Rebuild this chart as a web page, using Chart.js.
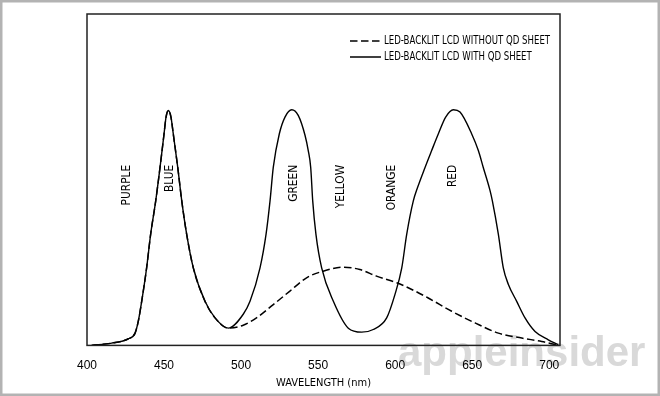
<!DOCTYPE html>
<html>
<head>
<meta charset="utf-8">
<script src="https://cdn.jsdelivr.net/npm/chart.js@4.4.1/dist/chart.umd.min.js"></script>
<style>
  html, body { margin: 0; padding: 0; background: #fff; }
</style>
</head>
<body>
<canvas id="spectrum" width="660" height="396"></canvas>
<script>
// spectrum values (wavelength nm, relative intensity 0-100)
const xTicks = [400, 450, 500, 550, 600, 650, 700];

const withoutLabel = 'LED-BACKLIT LCD WITHOUT QD SHEET';
const withoutWl = [403, 416, 426.8, 431.2, 433.3, 435.5, 438.7, 441.3, 444.6, 447.4, 450.0, 451.3, 452.8,
  454.5, 456.0, 458.9, 461.5, 464.7, 469.0, 476.6, 483.1, 491.7,
  501.4, 510.0, 520.9, 531.7, 542.5, 553.3, 566.3, 577.1, 587.9, 601.0, 608.5, 621.5, 636.7,
  651.8, 667.0, 682.2, 695.1, 705.9];
const withoutVal = [0, 0.7, 2.0, 3.7, 7.3, 13.3, 23.4, 33.5, 43.6, 53.7, 63.8, 68.9, 70.9,
  68.9, 63.8, 53.7, 43.6, 33.5, 23.4, 13.3, 8.3, 5.2,
  6.1, 8.3, 12.3, 16.4, 20.4, 22.4, 23.6, 22.9, 20.9, 18.9, 17.4, 14.3, 10.3,
  6.8, 3.7, 2.2, 1.2, 0];

const withLabel = 'LED-BACKLIT LCD WITH QD SHEET';
const withWl = [403, 416, 426.8, 431.2, 433.3, 435.5, 438.7, 441.3, 444.6, 447.4, 450.0, 451.3, 452.8,
  454.5, 456.0, 458.9, 461.5, 464.7, 469.0, 476.6, 483.1, 491.7,
  501.4, 505.8, 512.3, 516.2, 518.8, 520.9, 524.8, 528.5, 532.9, 537.1, 541.5, 543.6, 545.2,
  546.5, 548.6, 552.3, 559.9, 569.6, 578.3, 585.8, 594.5, 599.9, 604.3, 607.5, 611.8, 614.6,
  619.4, 623.7, 628.0, 632.8, 637.8, 642.1, 649.7, 654.0, 657.2, 661.6, 663.1, 667.0, 670.2,
  673.5, 678.9, 684.3, 690.8, 699.4, 705.9];
const withVal = [0, 0.7, 2.0, 3.7, 7.3, 13.3, 23.4, 33.5, 43.6, 53.7, 63.8, 68.9, 70.9,
  68.9, 63.8, 53.7, 43.6, 33.5, 23.4, 13.3, 8.3, 5.2,
  9.4, 13.3, 23.4, 33.5, 43.6, 53.7, 63.8, 68.9, 71.1, 69.4, 63.4, 58.8, 53.7,
  43.6, 33.5, 23.4, 13.3, 5.2, 4.0, 4.8, 8.3, 15.4, 23.4, 33.5, 43.6, 47.7,
  53.7, 58.8, 63.8, 68.9, 71.1, 70.4, 63.8, 58.8, 53.7, 46.7, 43.6, 33.5, 23.4,
  18.4, 13.3, 8.3, 4.2, 1.7, 0.2];

// colour band names written across the plot
const bandNames = ['PURPLE', 'BLUE', 'GREEN', 'YELLOW', 'ORANGE', 'RED'];
const bandWl = [425.8, 453.4, 534.4, 564.5, 597.8, 637.5];
const bandTop = 54.5;

const narrow = '"Liberation Sans Narrow", "DejaVu Sans Condensed", sans-serif';

function points(xs, ys) {
  return xs.map(function (x, i) { return { x: x, y: ys[i] }; });
}

// white page, grey frame and the watermark under everything
const pagePlugin = {
  id: 'page',
  beforeDraw: function (chart) {
    const ctx = chart.ctx;
    ctx.save();
    ctx.fillStyle = '#fff';
    ctx.fillRect(0, 0, chart.width, chart.height);
    ctx.strokeStyle = '#b3b3b3';
    ctx.lineWidth = 3;
    ctx.strokeRect(1, 1, chart.width - 2, chart.height - 2);
    ctx.fillStyle = '#d9d9d9';
    ctx.font = 'bold 42px "Liberation Sans", Arial, sans-serif';
    ctx.textBaseline = 'alphabetic';
    ctx.fillText('appleinsider', 398, 366);
    ctx.restore();
  },
  afterDraw: function (chart) {
    const ctx = chart.ctx;
    const a = chart.chartArea;
    const xs = chart.scales.x, ys = chart.scales.y;
    ctx.save();
    // plot box
    ctx.strokeStyle = '#222';
    ctx.lineWidth = 1.5;
    ctx.strokeRect(a.left, a.top, a.right - a.left, a.bottom - a.top);

    // band names, rotated, squeezed a little like the drafting lettering
    ctx.fillStyle = '#000';
    ctx.font = '13px ' + narrow;
    ctx.textAlign = 'right';
    ctx.textBaseline = 'middle';
    for (let i = 0; i < bandNames.length; i++) {
      ctx.save();
      ctx.translate(xs.getPixelForValue(bandWl[i]), ys.getPixelForValue(bandTop));
      ctx.rotate(-Math.PI / 2);
      ctx.scale(0.91, 1);
      ctx.fillText(bandNames[i], 0, 0);
      ctx.restore();
    }

    // legend top right
    ctx.font = '11.5px ' + narrow;
    ctx.textAlign = 'left';
    chart.data.datasets.forEach(function (ds, i) {
      const y = a.top + 27 + i * 16;
      const x0 = a.right - 210;
      ctx.beginPath();
      ctx.setLineDash(ds.borderDash || []);
      ctx.lineWidth = 1.5;
      ctx.strokeStyle = '#000';
      ctx.moveTo(x0, y);
      ctx.lineTo(x0 + 31, y);
      ctx.stroke();
      ctx.setLineDash([]);
      ctx.save();
      ctx.translate(x0 + 34, y);
      ctx.scale(0.83, 1);
      ctx.fillText(ds.label, 0, 0);
      ctx.restore();
    });
    ctx.restore();
  }
};

new Chart(document.getElementById('spectrum'), {
  type: 'line',
  data: {
    datasets: [
      {
        label: withoutLabel,
        data: points(withoutWl, withoutVal),
        borderColor: '#000',
        borderWidth: 1.5,
        borderDash: [7.5, 3.5],
        pointRadius: 0,
        cubicInterpolationMode: 'monotone',
        fill: false
      },
      {
        label: withLabel,
        data: points(withWl, withVal),
        borderColor: '#000',
        borderWidth: 1.4,
        pointRadius: 0,
        cubicInterpolationMode: 'monotone',
        fill: false
      }
    ]
  },
  options: {
    responsive: false,
    animation: false,
    layout: { padding: { left: 87, right: 100, top: 14, bottom: 6 } },
    plugins: {
      legend: { display: false },
      tooltip: { enabled: false }
    },
    scales: {
      x: {
        type: 'linear',
        min: 400,
        max: 707,
        afterBuildTicks: function (s) { s.ticks = xTicks.map(function (v) { return { value: v }; }); },
        grid: { display: false, drawTicks: false },
        border: { display: false },
        ticks: { padding: 13, color: '#000', font: { family: '"Liberation Sans", Arial, sans-serif', size: 12 } },
        title: {
          display: true,
          text: 'WAVELENGTH (nm)',
          color: '#000',
          font: { family: narrow, size: 11 },
          padding: { top: -9, bottom: 0 }
        }
      },
      y: { display: false, min: 0, max: 100 }
    }
  },
  plugins: [pagePlugin]
});
</script>
</body>
</html>
